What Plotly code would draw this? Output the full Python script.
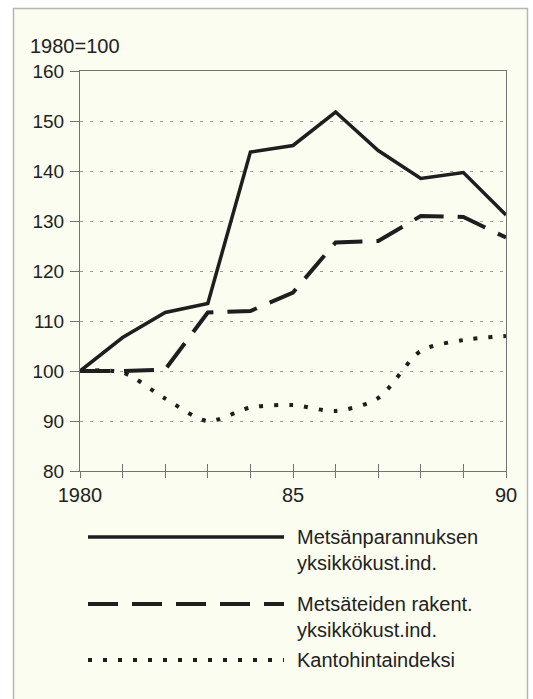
import plotly.graph_objects as go

# years and index values (1980=100)
years = list(range(1980, 1991))
metsanparannus = [100, 106.7, 111.7, 113.5, 143.8, 145.1, 151.8, 144.1, 138.5, 139.7, 131.2]
metsateiden = [100, 100, 100.3, 111.7, 112, 115.7, 125.7, 126, 131, 130.8, 126.7]
kantohinta = [100, 99.7, 94.5, 90, 92.7, 93.2, 92, 94.6, 104, 106.2, 107]

x_tickvals = years
x_ticktext = ["1980", "", "", "", "", "85", "", "", "", "", "90"]
y_tickvals = [80, 90, 100, 110, 120, 130, 140, 150, 160]

legend_labels = ["Metsänparannuksen<br>yksikkökust.ind.",
                 "Metsäteiden rakent.<br>yksikkökust.ind.",
                 "Kantohintaindeksi"]

BG = "#fbfdf0"
INK = "#1e1e1e"
AXIS = "#707570"
FONT = "Liberation Sans, Arial, sans-serif"

fig = go.Figure()

fig.add_trace(go.Scatter(x=years, y=metsanparannus, mode="lines",
                         line=dict(color=INK, width=3.5)))
fig.add_trace(go.Scatter(x=years, y=metsateiden, mode="lines",
                         line=dict(color=INK, width=4, dash="30px,14px")))
fig.add_trace(go.Scatter(x=years, y=kantohinta, mode="lines",
                         line=dict(color=INK, width=4, dash="4px,11px", shape="spline",
                                   smoothing=0.8)))
# dummy trace so the inside-ticks overlay axis renders
fig.add_trace(go.Scatter(x=[None], y=[None], xaxis="x2", yaxis="y"))

# plot-area geometry in px, used to place the frame and legend in paper units
L, R, T, B = 80, 506, 71, 471
W, H = R - L, B - T


def px_x(px):
    return (px - L) / W


def px_y(py):
    return (B - py) / H


# outer frame
fig.add_shape(type="rect", xref="paper", yref="paper", layer="below",
              x0=px_x(13.5), x1=px_x(527.5), y0=px_y(720), y1=px_y(8.5),
              fillcolor=BG, line=dict(color="#b4b8b4", width=1.5))

# legend keys and text
styles = [dict(color=INK, width=3.5),
          dict(color=INK, width=4, dash="30px,14px"),
          dict(color=INK, width=4, dash="4px,11px")]
key_y = [537, 604, 660]
text_y = [550, 617, 660]
for style, ky, ty, label in zip(styles, key_y, text_y, legend_labels):
    fig.add_shape(type="line", xref="paper", yref="paper",
                  x0=px_x(88), x1=px_x(284), y0=px_y(ky), y1=px_y(ky), line=style)
    fig.add_annotation(xref="paper", yref="paper", x=px_x(295), y=px_y(ty),
                       text=label, showarrow=False, xanchor="left", yanchor="middle",
                       align="left", font=dict(size=20, color="#222"))

fig.add_annotation(xref="paper", yref="paper", x=px_x(28), y=px_y(46),
                   text="1980=100", showarrow=False, xanchor="left", yanchor="middle",
                   font=dict(size=20, color="#222"))

fig.update_layout(
    width=533, height=699,
    margin=dict(l=L, r=533 - R, t=T, b=699 - B),
    paper_bgcolor="white", plot_bgcolor=BG,
    showlegend=False,
    font=dict(family=FONT, size=19, color="#222"),
    xaxis=dict(range=[1980, 1990], tickvals=x_tickvals, ticktext=x_ticktext,
               ticks="outside", ticklen=6, tickcolor=AXIS, showgrid=False,
               zeroline=False, showline=True, linecolor=AXIS, mirror=True,
               tickfont=dict(size=20), ticklabelstandoff=0),
    xaxis2=dict(range=[1980, 1990], overlaying="x", tickvals=x_tickvals,
                showticklabels=False, ticks="inside", ticklen=7, tickcolor=AXIS,
                showgrid=False, zeroline=False, side="bottom", anchor="y"),
    yaxis=dict(range=[80, 160], tickvals=y_tickvals, ticks="outside", ticklen=9,
               tickcolor=AXIS, showgrid=True, gridcolor="#9a9e98", griddash="3px,7px",
               gridwidth=1, zeroline=False, showline=True, linecolor=AXIS, mirror=True,
               tickfont=dict(size=19), ticklabelstandoff=2),
)

fig.write_html("out.html", config={"displayModeBar": False},
               post_script="document.body.style.margin='0';")
